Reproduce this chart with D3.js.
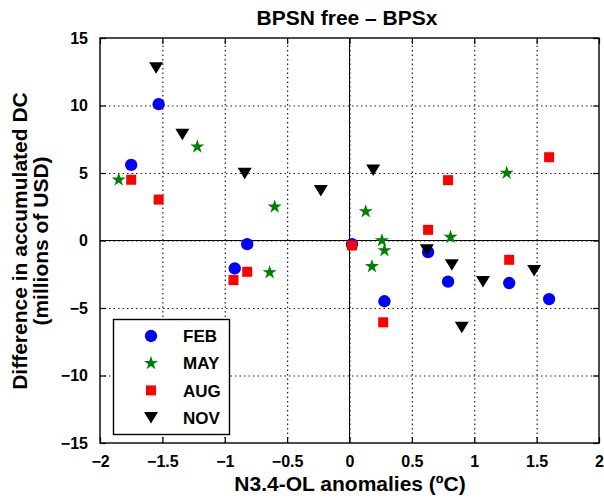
<!DOCTYPE html>
<html>
<head>
<meta charset="utf-8">
<script src="https://cdn.jsdelivr.net/npm/d3@7"></script>
<style>
  body { margin: 0; background: #fff; }
  text { font-family: "Liberation Sans", Arial, sans-serif; font-weight: bold; fill: #000; }
  .grid line { stroke: #222; stroke-width: 1.2px; stroke-dasharray: 1.5 3; }
</style>
</head>
<body>
<svg id="chart" width="604" height="500"></svg>
<script>
'use strict';

// values (x: N3.4-OL anomaly, y: difference in DC)
const febX = [-1.53, -1.75, -0.82, -0.92, 0.02, 0.28, 0.63, 0.79, 1.28, 1.60];
const febY = [10.1, 5.6, -0.27, -2.07, -0.27, -4.5, -0.86, -3.05, -3.15, -4.34];
const mayX = [-1.22, -1.85, -0.60, -0.64, 0.13, 0.26, 0.28, 0.18, 0.81, 1.26];
const mayY = [6.95, 4.5, 2.5, -2.37, 2.15, 0.0, -0.74, -1.92, 0.25, 5.0];
const augX = [-1.75, -1.53, -0.82, -0.93, 0.02, 0.27, 0.63, 0.79, 1.28, 1.60];
const augY = [4.5, 3.03, -2.32, -2.93, -0.37, -6.06, 0.79, 4.47, -1.43, 6.17];
const novX = [-1.55, -1.34, -0.84, -0.23, 0.19, 0.62, 0.82, 1.07, 0.90, 1.48];
const novY = [12.8, 7.87, 4.98, 3.7, 5.23, -0.69, -1.8, -3.03, -6.43, -2.22];

const xTicks = [-2, -1.5, -1, -0.5, 0, 0.5, 1, 1.5, 2];
const yTicks = [-15, -10, -5, 0, 5, 10, 15];

const series = [
  { name: 'FEB', xs: febX, ys: febY, color: '#0000ff', shape: 'circle' },
  { name: 'MAY', xs: mayX, ys: mayY, color: '#008000', shape: 'star' },
  { name: 'AUG', xs: augX, ys: augY, color: '#ff0000', shape: 'square' },
  { name: 'NOV', xs: novX, ys: novY, color: '#000000', shape: 'tri' },
];

// plot box
const box = { left: 100, right: 599, top: 38, bottom: 443 };
const x = d3.scaleLinear().domain([-2, 2]).range([box.left, box.right]);
const y = d3.scaleLinear().domain([-15, 15]).range([box.bottom, box.top]);

const svg = d3.select('#chart');

// marker paths centred on 0,0
const marker = function (shape) {
  if (shape === 'circle') return d3.symbol(d3.symbolCircle, 120)();
  if (shape === 'square') return 'M-5,-5 h10 v10 h-10 Z';
  if (shape === 'star') return d3.symbol(d3.symbolStar, 62)();
  return 'M-7,-5.5 L7,-5.5 L0,6 Z'; // downward triangle
};

// dotted grid (full-length axis ticks)
svg.append('g').attr('class', 'grid')
  .attr('transform', `translate(0,${box.bottom})`)
  .call(d3.axisBottom(x).tickValues(xTicks.slice(1, -1)).tickSize(-(box.bottom - box.top)).tickFormat(''))
  .call(g => g.select('.domain').remove());
svg.append('g').attr('class', 'grid')
  .attr('transform', `translate(${box.left},0)`)
  .call(d3.axisLeft(y).tickValues(yTicks.slice(1, -1)).tickSize(-(box.right - box.left)).tickFormat(''))
  .call(g => g.select('.domain').remove());

// zero lines
svg.append('line')
  .attr('x1', x(0)).attr('x2', x(0))
  .attr('y1', box.top).attr('y2', box.bottom).attr('stroke', '#000').attr('stroke-width', 1);
svg.append('line')
  .attr('y1', y(0)).attr('y2', y(0))
  .attr('x1', box.left).attr('x2', box.right).attr('stroke', '#000').attr('stroke-width', 1);

// axes: ticks point inward, on all four sides
const fmt = d => (d < 0 ? '\u2212' + Math.abs(d) : String(d));
const axB = svg.append('g').attr('transform', `translate(0,${box.bottom})`)
  .call(d3.axisBottom(x).tickValues(xTicks).tickSizeInner(-6).tickSizeOuter(0).tickPadding(12).tickFormat(fmt));
const axT = svg.append('g').attr('transform', `translate(0,${box.top})`)
  .call(d3.axisTop(x).tickValues(xTicks).tickSizeInner(-6).tickSizeOuter(0).tickFormat(''));
const axL = svg.append('g').attr('transform', `translate(${box.left},0)`)
  .call(d3.axisLeft(y).tickValues(yTicks).tickSizeInner(-6).tickSizeOuter(0).tickPadding(12).tickFormat(fmt));
const axR = svg.append('g').attr('transform', `translate(${box.right},0)`)
  .call(d3.axisRight(y).tickValues(yTicks).tickSizeInner(-6).tickSizeOuter(0).tickFormat(''));
[axB, axT, axL, axR].forEach(a => {
  a.select('.domain').remove();
  a.selectAll('text').style('font-size', '16px').attr('fill', '#000');
  a.selectAll('line').attr('stroke', '#000').attr('stroke-width', 1.2);
});
axB.selectAll('text').attr('dy', '0.72em');

// frame
svg.append('rect')
  .attr('x', box.left).attr('y', box.top)
  .attr('width', box.right - box.left).attr('height', box.bottom - box.top)
  .attr('fill', 'none').attr('stroke', '#000').attr('stroke-width', 1.4);

// points
series.forEach(s => {
  svg.append('g').attr('class', 'pts-' + s.name)
    .selectAll('path').data(s.xs.map((v, i) => [v, s.ys[i]])).join('path')
    .attr('transform', d => `translate(${x(d[0])},${y(d[1])})`)
    .attr('d', marker(s.shape))
    .attr('fill', s.color);
});

// legend
const lg = svg.append('g').attr('class', 'legend');
lg.append('rect')
  .attr('x', 113.5).attr('y', 319.5).attr('width', 116).attr('height', 115)
  .attr('fill', '#fff').attr('stroke', '#000').attr('stroke-width', 1.4);
const rows = lg.selectAll('g.row').data(series).join('g')
  .attr('class', 'row')
  .attr('transform', (d, i) => `translate(0,${336 + i * 27.2})`);
rows.append('path')
  .attr('transform', 'translate(151,0)')
  .attr('d', d => marker(d.shape))
  .attr('fill', d => d.color);
rows.append('text')
  .attr('x', 183).attr('dy', '0.36em')
  .style('font-size', '17px')
  .text(d => d.name);

// titles
svg.append('text')
  .attr('x', 347).attr('y', 25).attr('text-anchor', 'middle')
  .style('font-size', '21px').text('BPSN free \u2013 BPSx');
svg.append('text')
  .attr('x', 350).attr('y', 491).attr('text-anchor', 'middle')
  .style('font-size', '21px').text('N3.4-OL anomalies (\u00baC)');
const yl = svg.append('text')
  .attr('transform', 'translate(27,241) rotate(-90)')
  .attr('text-anchor', 'middle')
  .style('font-size', '21px');
yl.append('tspan').attr('x', 0).attr('y', 0).text('Difference in accumulated DC');
yl.append('tspan').attr('x', 0).attr('y', 21).text('(millions of USD)');
</script>
</body>
</html>
